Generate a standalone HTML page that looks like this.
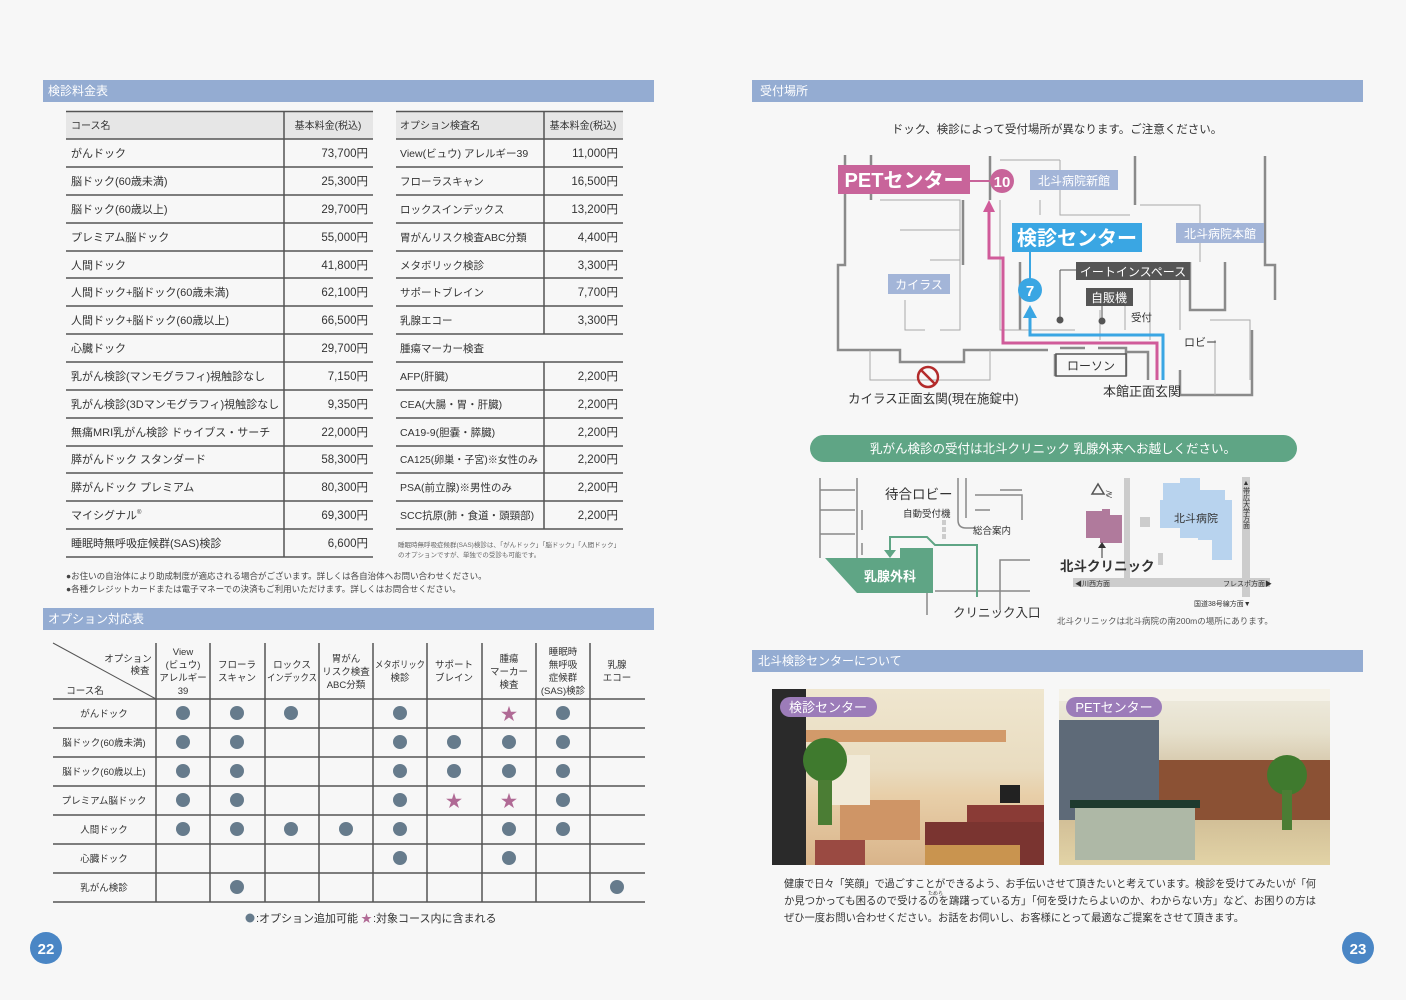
<!DOCTYPE html>
<html><head><meta charset="utf-8"><style>
html,body{margin:0;padding:0;background:#f7f7f7}
svg{display:block}
text{font-family:"Liberation Sans","Noto Sans CJK JP",sans-serif;fill:#333}
</style></head><body>
<svg width="1406" height="1000" viewBox="0 0 1406 1000" xmlns="http://www.w3.org/2000/svg">
<rect width="1406" height="1000" fill="#f7f7f7"/>
<!-- Section headers -->
<rect x="43" y="80" width="611" height="22" fill="#94acd2"/>
<text x="48" y="95" font-size="12" style="fill:#fff">検診料金表</text>
<rect x="43" y="608" width="611" height="22" fill="#94acd2"/>
<text x="48" y="623" font-size="12" style="fill:#fff">オプション対応表</text>
<rect x="752" y="80" width="611" height="22" fill="#94acd2"/>
<text x="760" y="95" font-size="12" style="fill:#fff">受付場所</text>
<rect x="752" y="650" width="611" height="22" fill="#94acd2"/>
<text x="758" y="665" font-size="12" style="fill:#fff">北斗検診センターについて</text>

<!-- Price table -->
<rect x="66" y="112" width="307" height="27" fill="#e6e6e6"/>
<rect x="396" y="112" width="227" height="27" fill="#e6e6e6"/>
<g stroke="#555" stroke-width="1.5">
<line x1="66" y1="111.5" x2="373" y2="111.5"/>
<line x1="396" y1="111.5" x2="623" y2="111.5"/>
<line x1="284" y1="112" x2="284" y2="557"/>
<line x1="544" y1="112" x2="544" y2="334"/>
<line x1="544" y1="362" x2="544" y2="529"/>
</g>
<g stroke="#555" stroke-width="1.5">
<line x1="66" y1="139" x2="373" y2="139"/><line x1="66" y1="167" x2="373" y2="167"/><line x1="66" y1="195" x2="373" y2="195"/><line x1="66" y1="223" x2="373" y2="223"/><line x1="66" y1="251" x2="373" y2="251"/><line x1="66" y1="278" x2="373" y2="278"/><line x1="66" y1="306" x2="373" y2="306"/><line x1="66" y1="334" x2="373" y2="334"/><line x1="66" y1="362" x2="373" y2="362"/><line x1="66" y1="390" x2="373" y2="390"/><line x1="66" y1="418" x2="373" y2="418"/><line x1="66" y1="446" x2="373" y2="446"/><line x1="66" y1="473" x2="373" y2="473"/><line x1="66" y1="501" x2="373" y2="501"/><line x1="66" y1="529" x2="373" y2="529"/><line x1="66" y1="557" x2="373" y2="557"/>
<line x1="396" y1="139" x2="623" y2="139"/><line x1="396" y1="167" x2="623" y2="167"/><line x1="396" y1="195" x2="623" y2="195"/><line x1="396" y1="223" x2="623" y2="223"/><line x1="396" y1="251" x2="623" y2="251"/><line x1="396" y1="278" x2="623" y2="278"/><line x1="396" y1="306" x2="623" y2="306"/><line x1="396" y1="334" x2="623" y2="334"/><line x1="396" y1="362" x2="623" y2="362"/><line x1="396" y1="390" x2="623" y2="390"/><line x1="396" y1="418" x2="623" y2="418"/><line x1="396" y1="446" x2="623" y2="446"/><line x1="396" y1="473" x2="623" y2="473"/><line x1="396" y1="501" x2="623" y2="501"/><line x1="396" y1="529" x2="623" y2="529"/>
</g>
<g font-size="11">
<text x="71" y="129" font-size="10">コース名</text>
<text x="328" y="129" font-size="10" text-anchor="middle">基本料金(税込)</text>
<text x="400" y="129" font-size="10">オプション検査名</text>
<text x="583" y="129" font-size="10" text-anchor="middle">基本料金(税込)</text>
<text x="71" y="157">がんドック</text>
<text x="71" y="185">脳ドック(60歳未満)</text>
<text x="71" y="213">脳ドック(60歳以上)</text>
<text x="71" y="241">プレミアム脳ドック</text>
<text x="71" y="269">人間ドック</text>
<text x="71" y="296">人間ドック+脳ドック(60歳未満)</text>
<text x="71" y="324">人間ドック+脳ドック(60歳以上)</text>
<text x="71" y="352">心臓ドック</text>
<text x="71" y="380">乳がん検診(マンモグラフィ)視触診なし</text>
<text x="71" y="408">乳がん検診(3Dマンモグラフィ)視触診なし</text>
<text x="71" y="436">無痛MRI乳がん検診 ドゥイブス・サーチ</text>
<text x="71" y="463">膵がんドック スタンダード</text>
<text x="71" y="491">膵がんドック プレミアム</text>
<text x="71" y="519">マイシグナル<tspan font-size="6" dy="-5">®</tspan></text>
<text x="71" y="547">睡眠時無呼吸症候群(SAS)検診</text>
</g>
<g font-size="11.5" text-anchor="end">
<text x="368" y="157">73,700円</text><text x="368" y="185">25,300円</text><text x="368" y="213">29,700円</text><text x="368" y="241">55,000円</text><text x="368" y="269">41,800円</text><text x="368" y="296">62,100円</text><text x="368" y="324">66,500円</text><text x="368" y="352">29,700円</text><text x="368" y="380">7,150円</text><text x="368" y="408">9,350円</text><text x="368" y="436">22,000円</text><text x="368" y="463">58,300円</text><text x="368" y="491">80,300円</text><text x="368" y="519">69,300円</text><text x="368" y="547">6,600円</text>
<text x="618" y="157">11,000円</text><text x="618" y="185">16,500円</text><text x="618" y="213">13,200円</text><text x="618" y="241">4,400円</text><text x="618" y="269">3,300円</text><text x="618" y="296">7,700円</text><text x="618" y="324">3,300円</text><text x="618" y="380">2,200円</text><text x="618" y="408">2,200円</text><text x="618" y="436">2,200円</text><text x="618" y="463">2,200円</text><text x="618" y="491">2,200円</text><text x="618" y="519">2,200円</text>
</g>
<g font-size="10.5">
<text x="400" y="157">View(ビュウ) アレルギー39</text>
<text x="400" y="185">フローラスキャン</text>
<text x="400" y="213">ロックスインデックス</text>
<text x="400" y="241">胃がんリスク検査ABC分類</text>
<text x="400" y="269">メタボリック検診</text>
<text x="400" y="296">サポートブレイン</text>
<text x="400" y="324">乳腺エコー</text>
<text x="400" y="352">腫瘍マーカー検査</text>
<text x="400" y="380">AFP(肝臓)</text>
<text x="400" y="408">CEA(大腸・胃・肝臓)</text>
<text x="400" y="436">CA19-9(胆嚢・膵臓)</text>
<text x="400" y="463" textLength="138" lengthAdjust="spacingAndGlyphs">CA125(卵巣・子宮)※女性のみ</text>
<text x="400" y="491">PSA(前立腺)※男性のみ</text>
<text x="400" y="519">SCC抗原(肺・食道・頭頸部)</text>
</g>
<text x="398" y="547" font-size="6.5" style="fill:#666">睡眠時無呼吸症候群(SAS)検診は、「がんドック」「脳ドック」「人間ドック」</text>
<text x="398" y="557" font-size="6.5" style="fill:#666">のオプションですが、単独での受診も可能です。</text>
<text x="66" y="579" font-size="8.5" style="fill:#444">●お住いの自治体により助成制度が適応される場合がございます。詳しくは各自治体へお問い合わせください。</text>
<text x="66" y="592" font-size="8.5" style="fill:#444">●各種クレジットカードまたは電子マネーでの決済もご利用いただけます。詳しくはお問合せください。</text>

<!-- Option table -->
<g stroke="#555" stroke-width="1.5">
<line x1="53" y1="699" x2="645" y2="699"/><line x1="53" y1="728" x2="645" y2="728"/><line x1="53" y1="757" x2="645" y2="757"/><line x1="53" y1="786" x2="645" y2="786"/><line x1="53" y1="815" x2="645" y2="815"/><line x1="53" y1="844" x2="645" y2="844"/><line x1="53" y1="873" x2="645" y2="873"/><line x1="53" y1="902" x2="645" y2="902"/>
<line x1="156" y1="643" x2="156" y2="902"/><line x1="210" y1="643" x2="210" y2="902"/><line x1="265" y1="643" x2="265" y2="902"/><line x1="319" y1="643" x2="319" y2="902"/><line x1="373" y1="643" x2="373" y2="902"/><line x1="427" y1="643" x2="427" y2="902"/><line x1="482" y1="643" x2="482" y2="902"/><line x1="536" y1="643" x2="536" y2="902"/><line x1="590" y1="643" x2="590" y2="902"/>
</g>
<line x1="53" y1="643" x2="156" y2="699" stroke="#555" stroke-width="1"/>
<g font-size="9.5" text-anchor="middle">
<text x="128" y="662">オプション</text><text x="140" y="674">検査</text><text x="85" y="694">コース名</text>
<text x="183" y="655">View</text><text x="183" y="668">(ビュウ)</text><text x="183" y="681">アレルギー</text><text x="183" y="694">39</text>
<text x="237" y="668">フローラ</text><text x="237" y="681">スキャン</text>
<text x="292" y="668">ロックス</text><text x="292" y="681" textLength="50" lengthAdjust="spacingAndGlyphs">インデックス</text>
<text x="346" y="662">胃がん</text><text x="346" y="675">リスク検査</text><text x="346" y="688">ABC分類</text>
<text x="400" y="668" textLength="50" lengthAdjust="spacingAndGlyphs">メタボリック</text><text x="400" y="681">検診</text>
<text x="454" y="668">サポート</text><text x="454" y="681">ブレイン</text>
<text x="509" y="662">腫瘍</text><text x="509" y="675">マーカー</text><text x="509" y="688">検査</text>
<text x="563" y="655">睡眠時</text><text x="563" y="668">無呼吸</text><text x="563" y="681">症候群</text><text x="563" y="694">(SAS)検診</text>
<text x="617" y="668">乳腺</text><text x="617" y="681">エコー</text>
<text x="104" y="717">がんドック</text><text x="104" y="746">脳ドック(60歳未満)</text><text x="104" y="775">脳ドック(60歳以上)</text><text x="104" y="804">プレミアム脳ドック</text><text x="104" y="833">人間ドック</text><text x="104" y="862">心臓ドック</text><text x="104" y="891">乳がん検診</text>
</g>
<g fill="#667b8c">
<circle cx="183" cy="713" r="7"/><circle cx="237" cy="713" r="7"/><circle cx="291" cy="713" r="7"/><circle cx="400" cy="713" r="7"/><circle cx="563" cy="713" r="7"/>
<circle cx="183" cy="742" r="7"/><circle cx="237" cy="742" r="7"/><circle cx="400" cy="742" r="7"/><circle cx="454" cy="742" r="7"/><circle cx="509" cy="742" r="7"/><circle cx="563" cy="742" r="7"/>
<circle cx="183" cy="771" r="7"/><circle cx="237" cy="771" r="7"/><circle cx="400" cy="771" r="7"/><circle cx="454" cy="771" r="7"/><circle cx="509" cy="771" r="7"/><circle cx="563" cy="771" r="7"/>
<circle cx="183" cy="800" r="7"/><circle cx="237" cy="800" r="7"/><circle cx="400" cy="800" r="7"/><circle cx="563" cy="800" r="7"/>
<circle cx="183" cy="829" r="7"/><circle cx="237" cy="829" r="7"/><circle cx="291" cy="829" r="7"/><circle cx="346" cy="829" r="7"/><circle cx="400" cy="829" r="7"/><circle cx="509" cy="829" r="7"/><circle cx="563" cy="829" r="7"/>
<circle cx="400" cy="858" r="7"/><circle cx="509" cy="858" r="7"/>
<circle cx="237" cy="887" r="7"/><circle cx="617" cy="887" r="7"/>
<circle cx="250" cy="918" r="4.5"/>
</g>
<g font-size="17" text-anchor="middle">
<text x="509" y="720" style="fill:#b06a95">★</text><text x="454" y="807" style="fill:#b06a95">★</text><text x="509" y="807" style="fill:#b06a95">★</text>
</g>
<text x="256" y="922" font-size="11">:オプション追加可能</text>
<text x="361" y="922" font-size="11" style="fill:#b06a95">★</text>
<text x="373" y="922" font-size="11">:対象コース内に含まれる</text>

<!-- page numbers -->
<circle cx="46" cy="948" r="16" fill="#4a86c5"/>
<text x="46" y="954" font-size="15" font-weight="bold" text-anchor="middle" style="fill:#fff">22</text>
<circle cx="1358" cy="948" r="16" fill="#4a86c5"/>
<text x="1358" y="954" font-size="15" font-weight="bold" text-anchor="middle" style="fill:#fff">23</text>

<text x="1057" y="133" font-size="11.5" text-anchor="middle">ドック、検診によって受付場所が異なります。ご注意ください。</text>

<!-- floor map -->
<g fill="none" stroke="#8a8a8a" stroke-width="2.5">
<path d="M845 155 V265 H838 V350 H900 V362 H964 V350 H1048"/>
<path d="M871 155 V200 M990 156 V200 M1135 156 V205 M1265 156 V265 H1275 V300"/>
<path d="M1020 262 V330 M963 200 V265 M1060 348 H1085 M1098 348 H1126 V375 H1055 V354"/>
<path d="M1126 352 H1148 V380 M1180 370 V395 H1252 V330"/>
<path d="M1190 262 V310 H1225 V262"/>
</g>
<g fill="none" stroke="#aaa" stroke-width="1">
<path d="M880 200 H960 V330 H940 M900 230 H960 M930 260 H960 M1000 200 V330 H1075 M1040 200 V215 M1060 160 V215 H1130 M1140 205 H1200 V262 M1210 320 H1250 V380 M1215 340 V395 M905 300 V330 H925 M870 350 V380 H990 V350 M1000 160 H1060 M1150 280 V340 M1180 280 V330"/>
<path d="M1100 310 V340 M1125 302 V330"/>
</g>
<path d="M1157 380 V343 H1003 V258 H989 V212" fill="none" stroke="#d05b9a" stroke-width="3"/>
<path d="M983 212 L989 200 L995 212 Z" fill="#d05b9a"/>
<path d="M1163 380 V335 H1030 V318" fill="none" stroke="#3aa6e3" stroke-width="3"/>
<path d="M1023 318 L1030 305 L1037 318 Z" fill="#3aa6e3"/>
<line x1="970" y1="181" x2="992" y2="181" stroke="#c8649a" stroke-width="2"/>
<rect x="838" y="165" width="132" height="29" fill="#c8649a"/>
<text x="904" y="187" font-size="20" font-weight="bold" text-anchor="middle" style="fill:#fff">PETセンター</text>
<circle cx="1002" cy="181" r="12" fill="#c8649a"/>
<text x="1002" y="187" font-size="15" font-weight="bold" text-anchor="middle" style="fill:#fff">10</text>
<rect x="1030" y="170" width="88" height="20" fill="#a3b5d8"/>
<text x="1074" y="185" font-size="12" text-anchor="middle" style="fill:#fff">北斗病院新館</text>
<line x1="1030" y1="252" x2="1030" y2="280" stroke="#3aa6e3" stroke-width="2"/>
<rect x="1012" y="223" width="130" height="29" fill="#3aa6e3"/>
<text x="1077" y="245" font-size="20" font-weight="bold" text-anchor="middle" style="fill:#fff">検診センター</text>
<circle cx="1030" cy="290" r="12" fill="#3aa6e3"/>
<text x="1030" y="296" font-size="15" font-weight="bold" text-anchor="middle" style="fill:#fff">7</text>
<rect x="1176" y="223" width="88" height="20" fill="#a3b5d8"/>
<text x="1220" y="238" font-size="12" text-anchor="middle" style="fill:#fff">北斗病院本館</text>
<rect x="888" y="274" width="62" height="20" fill="#a3b5d8"/>
<text x="919" y="289" font-size="12" text-anchor="middle" style="fill:#fff">カイラス</text>
<line x1="1060" y1="270" x2="1060" y2="318" stroke="#555"/><line x1="1060" y1="270" x2="1076" y2="270" stroke="#555"/>
<line x1="1102" y1="306" x2="1102" y2="320" stroke="#555"/>
<circle cx="1060" cy="320" r="3.5" fill="#555"/><circle cx="1102" cy="321" r="3.5" fill="#555"/>
<rect x="1076" y="262" width="114" height="18" fill="#555"/>
<text x="1133" y="276" font-size="12" text-anchor="middle" style="fill:#fff">イートインスペース</text>
<rect x="1086" y="288" width="47" height="18" fill="#555"/>
<text x="1109" y="302" font-size="12" text-anchor="middle" style="fill:#fff">自販機</text>
<text x="1131" y="321" font-size="10.5">受付</text>
<text x="1184" y="346" font-size="11">ロビー</text>
<rect x="1056" y="354" width="70" height="22" fill="#f7f7f7" stroke="#555" stroke-width="1.5"/>
<text x="1091" y="370" font-size="12" text-anchor="middle">ローソン</text>
<circle cx="928" cy="377" r="10" fill="none" stroke="#b32b2b" stroke-width="2.5"/>
<line x1="921" y1="370" x2="935" y2="384" stroke="#b32b2b" stroke-width="2.5"/>
<text x="848" y="403" font-size="12.5">カイラス正面玄関(現在施錠中)</text>
<text x="1103" y="396" font-size="13">本館正面玄関</text>

<rect x="810" y="435" width="487" height="27" rx="13.5" fill="#5fa585"/>
<text x="1053" y="453" font-size="12.5" text-anchor="middle" style="fill:#fff">乳がん検診の受付は北斗クリニック 乳腺外来へお越しください。</text>

<g fill="none" stroke="#888" stroke-width="1.5">
<path d="M820 478 V558 M857 478 V558 M820 490 H855 M820 510 H855 M820 534 H855 M862 510 V530 M862 543 V555 M958 478 V520 Q958 528 966 528 H975 M966 478 V518 M975 495 H1022 V520 M975 510 H990 M1000 490 H1022 M1030 560 H1000 V610 M1030 591 H935 M1000 600 V610 M927 593 V615"/>
</g>
<g fill="#ccc"><rect x="942" y="520" width="4" height="5"/><rect x="942" y="527" width="4" height="5"/><rect x="942" y="534" width="4" height="5"/></g>
<path d="M825 558 H900 V548 H933 V593 H857 Z" fill="#5fa585"/>
<text x="890" y="581" font-size="13" font-weight="bold" text-anchor="middle" style="fill:#fff">乳腺外科</text>
<path d="M977 597 V545 H935 L927 537 H890 V550" fill="none" stroke="#5fa585" stroke-width="2"/>
<path d="M884 550 L890 558 L896 550 Z" fill="#5fa585"/>
<text x="885" y="499" font-size="13.5">待合ロビー</text>
<text x="903" y="517" font-size="9.5">自動受付機</text>
<text x="973" y="534" font-size="9.5">総合案内</text>
<text x="953" y="617" font-size="12.5">クリニック入口</text>

<rect x="1124" y="478" width="6" height="106" fill="#ccc"/>
<rect x="1073" y="578" width="197" height="9" fill="#ccc"/>
<rect x="1242" y="477" width="8" height="120" fill="#ccc"/>
<path d="M1163 483 H1180 V478 H1200 V490 H1225 V500 H1232 V560 H1212 V540 H1198 V538 H1180 V528 H1160 V500 H1163 Z" fill="#b8d3ee"/>
<path d="M1086 511 H1102 V509 H1110 V515 H1122 V543 H1100 V538 H1086 Z" fill="#b07a9c"/>
<rect x="1140" y="517" width="10" height="10" fill="#ccc"/>
<rect x="1158" y="553" width="5" height="12" fill="#ccc"/>
<line x1="1102" y1="545" x2="1102" y2="558" stroke="#333"/>
<path d="M1098 548 L1102 542 L1106 548 Z" fill="#333"/>
<path d="M1092 494 L1098 484 L1104 494 Z" fill="none" stroke="#555" stroke-width="1.5"/>
<text x="1105" y="497" font-size="8">≷</text>
<text x="1174" y="522" font-size="11">北斗病院</text>
<text x="1060" y="571" font-size="13.5" font-weight="bold">北斗クリニック</text>
<text x="1075" y="586" font-size="7">◀川西方面</text>
<text x="1223" y="586" font-size="7">フレスポ方面▶</text>
<text x="1194" y="606" font-size="7">国道38号線方面▼</text>
<text x="1246" y="480" font-size="7" writing-mode="tb">▲帯広大学方面</text>
<text x="1057" y="624" font-size="8.5" style="fill:#555">北斗クリニックは北斗病院の南200mの場所にあります。</text>

<defs>
<linearGradient id="p1" x1="0" y1="0" x2="0" y2="1"><stop offset="0" stop-color="#efe6cf"/><stop offset="0.45" stop-color="#e9dcc0"/><stop offset="0.6" stop-color="#e8cfa9"/><stop offset="1" stop-color="#d9b48a"/></linearGradient>
<linearGradient id="p2" x1="0" y1="0" x2="0" y2="1"><stop offset="0" stop-color="#efece0"/><stop offset="0.25" stop-color="#e6e0cc"/><stop offset="0.6" stop-color="#c9b48f"/><stop offset="1" stop-color="#e2d3a6"/></linearGradient>
</defs>
<rect x="772" y="689" width="272" height="176" fill="url(#p1)"/>
<rect x="772" y="689" width="34" height="176" fill="#2a2a2a"/>
<rect x="806" y="730" width="200" height="12" fill="#d29a6a"/>
<rect x="840" y="800" width="80" height="40" fill="#cf9566"/>
<rect x="830" y="755" width="40" height="50" fill="#f1ead8"/>
<circle cx="825" cy="760" r="22" fill="#3f7a2e"/><rect x="818" y="780" width="14" height="45" fill="#4b7d34"/>
<rect x="967" y="805" width="77" height="60" fill="#8a3b36"/>
<rect x="925" y="822" width="119" height="43" fill="#7a3430"/>
<rect x="815" y="840" width="50" height="25" fill="#9a4a42"/>
<rect x="925" y="845" width="95" height="20" fill="#c9944f"/>
<rect x="1000" y="785" width="20" height="18" fill="#222"/>
<rect x="1059" y="689" width="271" height="176" fill="url(#p2)"/>
<rect x="1059" y="720" width="100" height="100" fill="#5e6a78"/>
<rect x="1159" y="760" width="171" height="60" fill="#8b5134"/>
<rect x="1075" y="800" width="120" height="60" fill="#aeb8a6"/>
<rect x="1070" y="800" width="130" height="8" fill="#1e3a2e"/>
<circle cx="1287" cy="775" r="20" fill="#3f7a2e"/><rect x="1282" y="790" width="10" height="40" fill="#4b7d34"/>
<rect x="1059" y="689" width="271" height="12" fill="#f5f2e8"/>
<rect x="780" y="697" width="97" height="20" rx="10" fill="#9c7cb9"/>
<text x="828" y="712" font-size="13" text-anchor="middle" style="fill:#fff">検診センター</text>
<rect x="1066" y="697" width="96" height="20" rx="10" fill="#9c7cb9"/>
<text x="1114" y="712" font-size="13" text-anchor="middle" style="fill:#fff">PETセンター</text>

<g font-size="10.5">
<text x="784" y="887" textLength="532" lengthAdjust="spacingAndGlyphs">健康で日々「笑顔」で過ごすことができるよう、お手伝いさせて頂きたいと考えています。検診を受けてみたいが「何</text>
<text x="784" y="904" textLength="532" lengthAdjust="spacingAndGlyphs">か見つかっても困るので受けるのを躊躇っている方」「何を受けたらよいのか、わからない方」など、お困りの方は</text>
<text x="784" y="921" textLength="460" lengthAdjust="spacingAndGlyphs">ぜひ一度お問い合わせください。お話をお伺いし、お客様にとって最適なご提案をさせて頂きます。</text>
</g>
<text x="928" y="895" font-size="5">ためら</text>
</svg>
</body></html>
